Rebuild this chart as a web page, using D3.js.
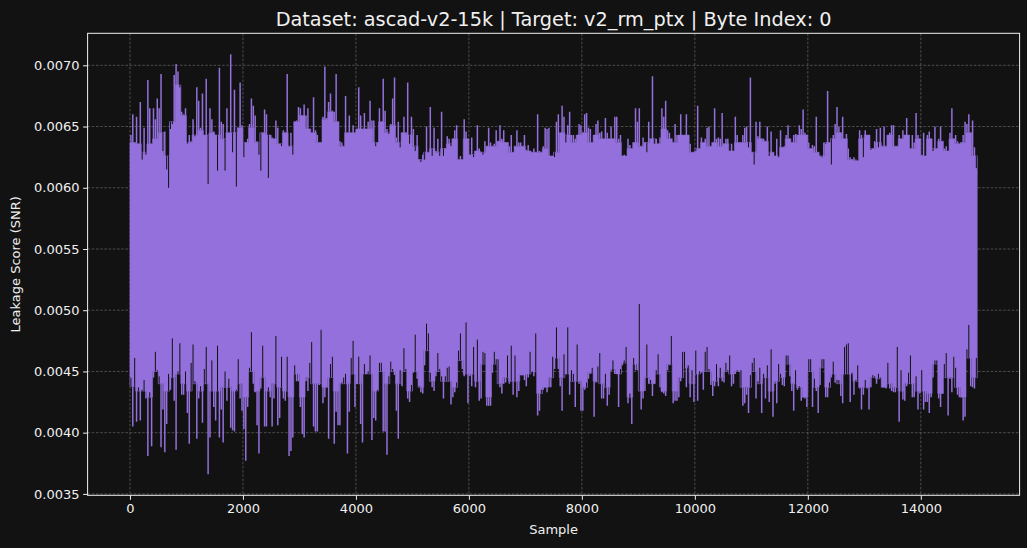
<!DOCTYPE html>
<html>
<head>
<meta charset="utf-8">
<script src="https://cdn.jsdelivr.net/npm/d3@7"></script>
<style>
  html, body { margin: 0; padding: 0; background: #121212; }
  svg { display: block; }
</style>
</head>
<body>
<svg id="chart" width="1027" height="548"></svg>
<script>
// ---- Data (SNR trace, summarised per 100-sample bin) ----
const titleText = "Dataset: ascad-v2-15k | Target: v2_rm_ptx | Byte Index: 0";
const xLabel = "Sample";
const yLabel = "Leakage Score (SNR)";
const samplesPerBin = 100;
const colsPerBin = 3;
const lastSample = 14999;

// typical upper edge of the dense trace in each bin
const hiEdge = [
0.00637,0.00636,0.00629,0.00636,0.00640,0.00645,0.00626,0.00654,0.00684,0.00659,
0.00637,0.00643,0.00647,0.00643,0.00645,0.00643,0.00640,0.00645,0.00645,0.00649,
0.00637,0.00649,0.00637,0.00645,0.00643,0.00640,0.00636,0.00645,0.00634,0.00654,
0.00659,0.00648,0.00645,0.00637,0.00656,0.00662,0.00654,0.00634,0.00645,0.00645,
0.00648,0.00648,0.00648,0.00637,0.00654,0.00645,0.00651,0.00637,0.00645,0.00643,
0.00634,0.00623,0.00629,0.00632,0.00629,0.00632,0.00636,0.00640,0.00623,0.00640,
0.00627,0.00630,0.00629,0.00634,0.00634,0.00638,0.00637,0.00629,0.00634,0.00634,
0.00630,0.00629,0.00629,0.00632,0.00626,0.00629,0.00645,0.00643,0.00637,0.00643,
0.00645,0.00637,0.00643,0.00640,0.00640,0.00640,0.00637,0.00626,0.00632,0.00637,
0.00634,0.00637,0.00640,0.00636,0.00648,0.00640,0.00637,0.00643,0.00643,0.00629,
0.00632,0.00637,0.00634,0.00637,0.00634,0.00636,0.00630,0.00637,0.00637,0.00637,
0.00629,0.00640,0.00638,0.00629,0.00626,0.00633,0.00640,0.00637,0.00643,0.00643,
0.00632,0.00629,0.00626,0.00637,0.00640,0.00645,0.00640,0.00623,0.00622,0.00640,
0.00643,0.00632,0.00637,0.00634,0.00643,0.00634,0.00640,0.00643,0.00632,0.00640,
0.00626,0.00640,0.00632,0.00638,0.00630,0.00640,0.00636,0.00637,0.00645,0.00626
];
// local maxima of the trace, three per bin (left, middle, right third)
const hiCols = [
0.00643,0.00660,0.00637, 0.00658,0.00636,0.00670, 0.00623,0.00649,0.00627, 0.00688,0.00665,0.00636, 0.00665,0.00656,0.00673,
0.00665,0.00693,0.00630, 0.00646,0.00615,0.00600, 0.00648,0.00652,0.00692, 0.00701,0.00695,0.00682, 0.00662,0.00660,0.00665,
0.00636,0.00643,0.00638, 0.00656,0.00642,0.00682, 0.00671,0.00649,0.00677, 0.00643,0.00689,0.00603, 0.00665,0.00656,0.00646,
0.00643,0.00614,0.00698, 0.00654,0.00652,0.00614, 0.00665,0.00645,0.00709, 0.00629,0.00680,0.00601, 0.00649,0.00686,0.00651,
0.00625,0.00637,0.00640, 0.00652,0.00673,0.00667, 0.00659,0.00638,0.00627, 0.00614,0.00645,0.00664, 0.00660,0.00608,0.00643,
0.00641,0.00640,0.00655, 0.00649,0.00636,0.00634, 0.00647,0.00645,0.00693, 0.00634,0.00645,0.00627, 0.00654,0.00655,0.00666,
0.00665,0.00659,0.00668, 0.00659,0.00665,0.00648, 0.00645,0.00674,0.00647, 0.00643,0.00637,0.00637, 0.00658,0.00699,0.00657,
0.00670,0.00677,0.00663, 0.00662,0.00693,0.00654, 0.00638,0.00637,0.00634, 0.00675,0.00645,0.00659, 0.00645,0.00651,0.00645,
0.00648,0.00682,0.00659, 0.00648,0.00661,0.00648, 0.00654,0.00671,0.00655, 0.00655,0.00634,0.00637, 0.00665,0.00654,0.00689,
0.00663,0.00648,0.00644, 0.00652,0.00673,0.00690, 0.00641,0.00654,0.00633, 0.00645,0.00658,0.00645, 0.00686,0.00636,0.00658,
0.00648,0.00630,0.00643, 0.00623,0.00621,0.00627, 0.00623,0.00650,0.00629, 0.00666,0.00626,0.00649, 0.00630,0.00640,0.00626,
0.00662,0.00626,0.00632, 0.00642,0.00640,0.00634, 0.00640,0.00647,0.00651, 0.00623,0.00626,0.00623, 0.00656,0.00646,0.00640,
0.00627,0.00641,0.00625, 0.00630,0.00651,0.00632, 0.00629,0.00627,0.00638, 0.00634,0.00649,0.00637, 0.00634,0.00636,0.00647,
0.00638,0.00651,0.00640, 0.00647,0.00637,0.00637, 0.00634,0.00643,0.00629, 0.00634,0.00647,0.00637, 0.00637,0.00634,0.00643,
0.00631,0.00635,0.00630, 0.00629,0.00632,0.00629, 0.00660,0.00630,0.00629, 0.00634,0.00649,0.00648, 0.00649,0.00626,0.00626,
0.00625,0.00654,0.00660, 0.00645,0.00667,0.00658, 0.00637,0.00651,0.00662, 0.00643,0.00643,0.00640, 0.00643,0.00652,0.00651,
0.00645,0.00660,0.00661, 0.00649,0.00648,0.00637, 0.00643,0.00652,0.00655, 0.00645,0.00646,0.00640, 0.00657,0.00645,0.00640,
0.00650,0.00640,0.00658, 0.00658,0.00640,0.00643, 0.00626,0.00627,0.00626, 0.00640,0.00635,0.00632, 0.00637,0.00665,0.00654,
0.00665,0.00634,0.00641, 0.00637,0.00629,0.00654, 0.00640,0.00691,0.00636, 0.00640,0.00636,0.00641, 0.00665,0.00658,0.00671,
0.00647,0.00645,0.00640, 0.00637,0.00652,0.00643, 0.00643,0.00660,0.00643, 0.00643,0.00660,0.00643, 0.00636,0.00629,0.00629,
0.00630,0.00667,0.00632, 0.00641,0.00637,0.00640, 0.00649,0.00650,0.00634, 0.00637,0.00665,0.00640, 0.00641,0.00640,0.00661,
0.00636,0.00640,0.00640, 0.00630,0.00636,0.00630, 0.00658,0.00643,0.00637, 0.00637,0.00643,0.00649, 0.00650,0.00633,0.00690,
0.00629,0.00619,0.00654, 0.00642,0.00654,0.00640, 0.00640,0.00638,0.00650, 0.00626,0.00646,0.00629, 0.00626,0.00640,0.00625,
0.00647,0.00633,0.00634, 0.00643,0.00651,0.00640, 0.00637,0.00643,0.00644, 0.00643,0.00651,0.00648, 0.00664,0.00645,0.00643,
0.00637,0.00632,0.00635, 0.00634,0.00658,0.00629, 0.00626,0.00625,0.00637, 0.00636,0.00679,0.00637, 0.00619,0.00643,0.00652,
0.00666,0.00650,0.00645, 0.00658,0.00640,0.00644, 0.00632,0.00625,0.00623, 0.00625,0.00623,0.00622, 0.00647,0.00643,0.00625,
0.00647,0.00643,0.00643, 0.00631,0.00632,0.00638, 0.00648,0.00633,0.00649, 0.00634,0.00650,0.00634, 0.00643,0.00645,0.00651,
0.00651,0.00634,0.00634, 0.00643,0.00640,0.00647, 0.00643,0.00657,0.00643, 0.00632,0.00643,0.00637, 0.00661,0.00643,0.00640,
0.00627,0.00645,0.00626, 0.00643,0.00646,0.00640, 0.00630,0.00650,0.00632, 0.00640,0.00650,0.00638, 0.00632,0.00634,0.00630,
0.00645,0.00665,0.00640, 0.00643,0.00638,0.00636, 0.00637,0.00643,0.00654, 0.00652,0.00660,0.00645, 0.00655,0.00633,0.00616
];
// typical lower edge of the dense trace in each bin
const loEdge = [
0.00438,0.00434,0.00434,0.00429,0.00450,0.00440,0.00434,0.00445,0.00448,0.00440,
0.00434,0.00440,0.00434,0.00440,0.00434,0.00434,0.00437,0.00437,0.00434,0.00440,
0.00429,0.00450,0.00434,0.00445,0.00434,0.00440,0.00437,0.00434,0.00429,0.00448,
0.00429,0.00445,0.00440,0.00440,0.00437,0.00445,0.00434,0.00440,0.00440,0.00448,
0.00440,0.00448,0.00448,0.00434,0.00450,0.00440,0.00450,0.00440,0.00450,0.00434,
0.00450,0.00437,0.00467,0.00442,0.00450,0.00442,0.00442,0.00437,0.00459,0.00448,
0.00448,0.00442,0.00456,0.00429,0.00456,0.00440,0.00445,0.00442,0.00442,0.00447,
0.00448,0.00450,0.00432,0.00437,0.00445,0.00461,0.00445,0.00448,0.00442,0.00442,
0.00437,0.00449,0.00442,0.00440,0.00437,0.00452,0.00448,0.00457,0.00429,0.00456,
0.00434,0.00445,0.00440,0.00448,0.00434,0.00456,0.00434,0.00445,0.00453,0.00440,
0.00448,0.00450,0.00450,0.00442,0.00445,0.00450,0.00448,0.00450,0.00437,0.00437,
0.00450,0.00440,0.00445,0.00434,0.00442,0.00445,0.00456,0.00440,0.00437,0.00429,
0.00450,0.00437,0.00453,0.00437,0.00448,0.00440,0.00448,0.00448,0.00442,0.00437,
0.00437,0.00445,0.00444,0.00437,0.00440,0.00437,0.00434,0.00440,0.00440,0.00434,
0.00434,0.00432,0.00456,0.00432,0.00445,0.00445,0.00437,0.00429,0.00461,0.00445
];
// local minima of the trace, three per bin (left, middle, right third)
const loCols = [
0.00445,0.00405,0.00461, 0.00409,0.00437,0.00410, 0.00435,0.00443,0.00428, 0.00381,0.00433,0.00389, 0.00445,0.00466,0.00451,
0.00446,0.00388,0.00419, 0.00384,0.00407,0.00448, 0.00435,0.00477,0.00426, 0.00386,0.00450,0.00473, 0.00431,0.00431,0.00450,
0.00416,0.00391,0.00457, 0.00472,0.00442,0.00395, 0.00428,0.00438,0.00408, 0.00452,0.00470,0.00366, 0.00396,0.00459,0.00421,
0.00410,0.00471,0.00396, 0.00419,0.00392,0.00450, 0.00426,0.00444,0.00404, 0.00402,0.00401,0.00435, 0.00460,0.00428,0.00418,
0.00403,0.00377,0.00421, 0.00453,0.00482,0.00440, 0.00433,0.00406,0.00383, 0.00436,0.00471,0.00405, 0.00405,0.00437,0.00429,
0.00405,0.00428,0.00479, 0.00406,0.00412,0.00462, 0.00428,0.00426,0.00462, 0.00381,0.00385,0.00396, 0.00455,0.00442,0.00442,
0.00421,0.00399,0.00396, 0.00442,0.00434,0.00457, 0.00474,0.00405,0.00401, 0.00401,0.00439,0.00484, 0.00424,0.00429,0.00437,
0.00395,0.00456,0.00462, 0.00391,0.00417,0.00406, 0.00406,0.00441,0.00445, 0.00448,0.00383,0.00417, 0.00461,0.00475,0.00421,
0.00440,0.00462,0.00407, 0.00392,0.00456,0.00448, 0.00450,0.00463,0.00394, 0.00412,0.00410,0.00435, 0.00457,0.00457,0.00401,
0.00401,0.00382,0.00446, 0.00458,0.00452,0.00447, 0.00418,0.00395,0.00451, 0.00438,0.00469,0.00452, 0.00428,0.00425,0.00439,
0.00449,0.00480,0.00444, 0.00438,0.00433,0.00432, 0.00455,0.00489,0.00481, 0.00449,0.00437,0.00434, 0.00446,0.00465,0.00452,
0.00446,0.00428,0.00446, 0.00453,0.00454,0.00423, 0.00429,0.00433,0.00441, 0.00467,0.00481,0.00452, 0.00446,0.00490,0.00424,
0.00446,0.00438,0.00470, 0.00437,0.00476,0.00426, 0.00428,0.00466,0.00465, 0.00422,0.00422,0.00422, 0.00449,0.00466,0.00460,
0.00460,0.00437,0.00432, 0.00440,0.00441,0.00463, 0.00440,0.00471,0.00431, 0.00463,0.00429,0.00434, 0.00447,0.00447,0.00443,
0.00438,0.00445,0.00466, 0.00450,0.00446,0.00481, 0.00414,0.00418,0.00435, 0.00435,0.00437,0.00433, 0.00437,0.00437,0.00462,
0.00452,0.00486,0.00452, 0.00438,0.00418,0.00464, 0.00448,0.00486,0.00431, 0.00451,0.00448,0.00421, 0.00472,0.00440,0.00418,
0.00418,0.00435,0.00441, 0.00444,0.00448,0.00453, 0.00413,0.00441,0.00454, 0.00465,0.00428,0.00428, 0.00448,0.00422,0.00431,
0.00450,0.00459,0.00448, 0.00448,0.00421,0.00452, 0.00455,0.00459,0.00470, 0.00424,0.00432,0.00407, 0.00461,0.00451,0.00451,
0.00505,0.00419,0.00428, 0.00434,0.00472,0.00440, 0.00443,0.00430,0.00440, 0.00451,0.00464,0.00437, 0.00433,0.00432,0.00430,
0.00451,0.00455,0.00479, 0.00424,0.00426,0.00426, 0.00429,0.00442,0.00466, 0.00466,0.00437,0.00455, 0.00429,0.00451,0.00425,
0.00467,0.00426,0.00450, 0.00449,0.00435,0.00466, 0.00470,0.00452,0.00439, 0.00430,0.00438,0.00456, 0.00438,0.00453,0.00442,
0.00441,0.00457,0.00451, 0.00463,0.00438,0.00440, 0.00448,0.00451,0.00450, 0.00451,0.00422,0.00424, 0.00431,0.00416,0.00447,
0.00457,0.00461,0.00428, 0.00442,0.00453,0.00416, 0.00448,0.00428,0.00455, 0.00425,0.00468,0.00413, 0.00440,0.00424,0.00456,
0.00448,0.00439,0.00438, 0.00463,0.00463,0.00446, 0.00434,0.00418,0.00451, 0.00435,0.00438,0.00426, 0.00429,0.00428,0.00421,
0.00460,0.00460,0.00421, 0.00444,0.00434,0.00416, 0.00439,0.00460,0.00460, 0.00429,0.00429,0.00441, 0.00445,0.00458,0.00441,
0.00443,0.00443,0.00430, 0.00424,0.00470,0.00472, 0.00473,0.00425,0.00449, 0.00431,0.00443,0.00455, 0.00436,0.00419,0.00431,
0.00443,0.00436,0.00419, 0.00437,0.00447,0.00446, 0.00440,0.00448,0.00445, 0.00437,0.00437,0.00436, 0.00457,0.00436,0.00434,
0.00433,0.00433,0.00470, 0.00409,0.00451,0.00427, 0.00426,0.00438,0.00449, 0.00463,0.00429,0.00429, 0.00446,0.00419,0.00432,
0.00451,0.00419,0.00425, 0.00425,0.00416,0.00429, 0.00445,0.00459,0.00459, 0.00428,0.00421,0.00432, 0.00456,0.00465,0.00414,
0.00444,0.00433,0.00462, 0.00453,0.00431,0.00429, 0.00429,0.00410,0.00413, 0.00468,0.00488,0.00438, 0.00437,0.00436,0.00461
];

const xTicks = [0, 2000, 4000, 6000, 8000, 10000, 12000, 14000];
const yTicks = [0.0035, 0.0040, 0.0045, 0.0050, 0.0055, 0.0060, 0.0065, 0.0070];
const yTickLabels = ["0.0035", "0.0040", "0.0045", "0.0050", "0.0055", "0.0060", "0.0065", "0.0070"];

// ---- Layout / style ----
const W = 1027, H = 548;
const plot = { left: 87.6, right: 1019.6, top: 33.3, bottom: 495.3 };
const bg = "#121212";
const lineColor = "#9370DB";
const fg = "#f0f0f0";
const font = "'DejaVu Sans', sans-serif";

const svg = d3.select("#chart");
svg.append("rect").attr("width", W).attr("height", H).attr("fill", bg);

// matplotlib-like 5% margins
const xMin = 0, xMax = lastSample;
const yMin = d3.min(loCols), yMax = d3.max(hiCols);
const xPad = (xMax - xMin) * 0.05, yPad = (yMax - yMin) * 0.05;
const x = d3.scaleLinear().domain([xMin - xPad, xMax + xPad]).range([plot.left, plot.right]);
const y = d3.scaleLinear().domain([yMin - yPad, yMax + yPad]).range([plot.bottom, plot.top]);

// grid (below data)
const grid = svg.append("g").attr("stroke", "#5c5c5c").attr("stroke-width", 0.8)
  .attr("stroke-dasharray", "2.6,1.6");
grid.selectAll("line.v").data(xTicks).join("line").attr("class", "v")
  .attr("x1", d => x(d)).attr("x2", d => x(d))
  .attr("y1", plot.top).attr("y2", plot.bottom);
grid.selectAll("line.h").data(yTicks).join("line").attr("class", "h")
  .attr("y1", d => y(d)).attr("y2", d => y(d))
  .attr("x1", plot.left).attr("x2", plot.right);

// data
const bins = hiEdge.map((h, i) => ({ s: i * samplesPerBin, hiE: h, loE: loEdge[i] }));
const areaPts = bins.concat([{ s: lastSample, hiE: hiEdge[hiEdge.length - 1], loE: loEdge[loEdge.length - 1] }]);
const colW = samplesPerBin / colsPerBin;
const cols = hiCols.map((v, j) => {
  const b = Math.floor(j / colsPerBin);
  return {
    s: Math.min(b * samplesPerBin + (j % colsPerBin + 0.5) * colW, lastSample),
    hi: v, lo: loCols[j], hiE: hiEdge[b], loE: loEdge[b]
  };
});

svg.append("clipPath").attr("id", "clip").append("rect")
  .attr("x", plot.left).attr("y", plot.top)
  .attr("width", plot.right - plot.left).attr("height", plot.bottom - plot.top);
const dataG = svg.append("g").attr("clip-path", "url(#clip)");

const area = d3.area().curve(d3.curveStepAfter)
  .x(d => x(d.s)).y0(d => y(d.loE)).y1(d => y(d.hiE));
dataG.append("path").datum(areaPts).attr("d", area).attr("fill", lineColor)
  .attr("stroke", lineColor).attr("stroke-width", 0.6);

// dark notches (local maxima below the edge / local minima above the edge)
dataG.selectAll("line.nt").data(cols.filter(d => d.hi < d.hiE)).join("line").attr("class", "nt")
  .attr("x1", d => x(d.s)).attr("x2", d => x(d.s))
  .attr("y1", d => y(d.hi)).attr("y2", d => y(d.hiE))
  .attr("stroke", bg).attr("stroke-width", 1.0);
dataG.selectAll("line.nb").data(cols.filter(d => d.lo > d.loE)).join("line").attr("class", "nb")
  .attr("x1", d => x(d.s)).attr("x2", d => x(d.s))
  .attr("y1", d => y(d.loE)).attr("y2", d => y(d.lo))
  .attr("stroke", bg).attr("stroke-width", 1.0);

// purple spikes
dataG.selectAll("line.up").data(cols.filter(d => d.hi > d.hiE)).join("line").attr("class", "up")
  .attr("x1", d => x(d.s)).attr("x2", d => x(d.s))
  .attr("y1", d => y(d.hiE)).attr("y2", d => y(d.hi))
  .attr("stroke", lineColor).attr("stroke-width", 1.5);
dataG.selectAll("line.dn").data(cols.filter(d => d.lo < d.loE)).join("line").attr("class", "dn")
  .attr("x1", d => x(d.s)).attr("x2", d => x(d.s))
  .attr("y1", d => y(d.loE)).attr("y2", d => y(d.lo))
  .attr("stroke", lineColor).attr("stroke-width", 1.5);

// frame
svg.append("rect").attr("x", plot.left).attr("y", plot.top)
  .attr("width", plot.right - plot.left).attr("height", plot.bottom - plot.top)
  .attr("fill", "none").attr("stroke", fg).attr("stroke-width", 1);

// axes
const xAxis = d3.axisBottom(x).tickValues(xTicks).tickSize(4.5).tickPadding(3.5)
  .tickFormat(d3.format("d"));
const gx = svg.append("g").attr("transform", `translate(0,${plot.bottom})`).call(xAxis);
const yAxis = d3.axisLeft(y).tickValues(yTicks).tickSize(4.5).tickPadding(3.5)
  .tickFormat((d, i) => yTickLabels[i]);
const gy = svg.append("g").attr("transform", `translate(${plot.left},0)`).call(yAxis);
[gx, gy].forEach(g => {
  g.select(".domain").remove();
  g.selectAll(".tick line").attr("stroke", fg).attr("stroke-width", 1);
  g.selectAll(".tick text").attr("fill", fg).attr("font-family", font).attr("font-size", "13px");
});

// labels
svg.append("text").attr("x", (plot.left + plot.right) / 2).attr("y", 534)
  .attr("text-anchor", "middle").attr("fill", fg).attr("font-family", font)
  .attr("font-size", "13px").text(xLabel);
svg.append("text").attr("transform", `translate(19.5,${(plot.top + plot.bottom) / 2}) rotate(-90)`)
  .attr("text-anchor", "middle").attr("fill", fg).attr("font-family", font)
  .attr("font-size", "13px").text(yLabel);
svg.append("text").attr("x", (plot.left + plot.right) / 2).attr("y", 25.7)
  .attr("text-anchor", "middle").attr("fill", fg).attr("font-family", font)
  .attr("font-size", "19.3px").text(titleText);
</script>
</body>
</html>
